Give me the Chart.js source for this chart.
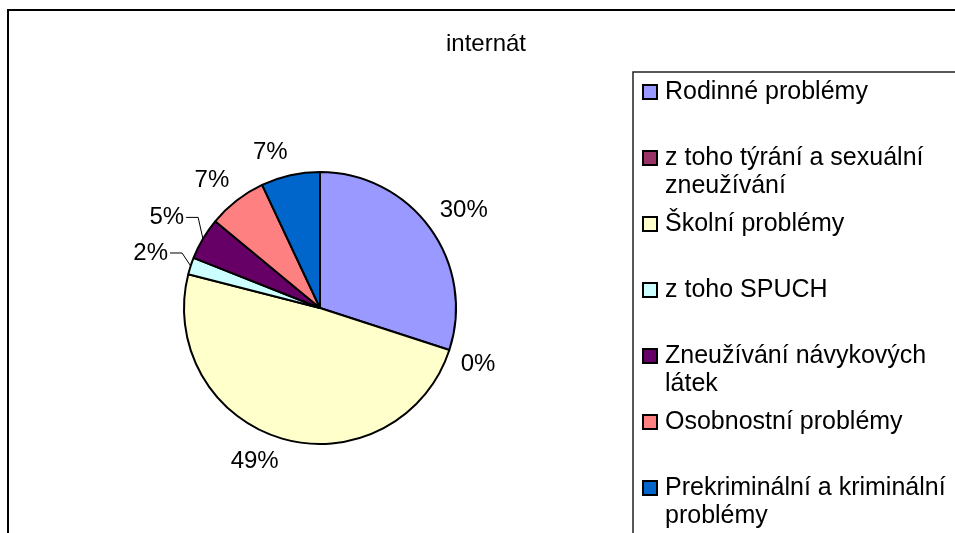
<!DOCTYPE html>
<html lang="cs">
<head>
  <meta charset="UTF-8" />
  <title>internát</title>
  <script src="https://cdn.jsdelivr.net/npm/chart.js"></script>
  <style>
    body {
      margin: 0;
      background: #fff;
    }
    canvas {
      display: block;
    }
  </style>
</head>
<body>
  <canvas id="pieChart" width="955" height="533"></canvas>

  <script>
    // Data
    const titleText = 'internát';
    const categories = [
      'Rodinné problémy',
      'z toho týrání a sexuální zneužívání',
      'Školní problémy',
      'z toho SPUCH',
      'Zneužívání návykových látek',
      'Osobnostní problémy',
      'Prekriminální a kriminální problémy'
    ];
    const shares = [30, 0, 49, 2, 5, 7, 7];
    const sliceColors = ['#9999FF', '#993366', '#FFFFCC', '#CCFFFF', '#660066', '#FF8080', '#0066CC'];

    const FONT = '24px "Liberation Sans", Arial, sans-serif';
    const LEGEND_FONT = '25px "Liberation Sans", Arial, sans-serif';

    // wrap legend text into lines
    function wrap(ctx, text, maxW) {
      const words = text.split(' ');
      const lines = [];
      let line = '';
      words.forEach(w => {
        const test = line ? line + ' ' + w : w;
        if (line && ctx.measureText(test).width > maxW) {
          lines.push(line);
          line = w;
        } else {
          line = test;
        }
      });
      if (line) lines.push(line);
      return lines;
    }

    const decor = {
      id: 'decor',
      beforeDraw(chart) {
        const ctx = chart.ctx;
        ctx.save();
        ctx.fillStyle = '#fff';
        ctx.fillRect(0, 0, chart.width, chart.height);

        // outer frame
        ctx.strokeStyle = '#000';
        ctx.lineWidth = 2;
        ctx.strokeRect(8, 10, chart.width + 20, chart.height + 20);

        // title
        ctx.font = FONT;
        ctx.fillStyle = '#000';
        ctx.textAlign = 'center';
        ctx.textBaseline = 'alphabetic';
        ctx.fillText(titleText, 486, 51);

        // legend box
        ctx.lineWidth = 1.5;
        ctx.strokeStyle = '#222';
        ctx.strokeRect(633, 72, 400, 600);

        ctx.font = LEGEND_FONT;
        ctx.textAlign = 'left';
        ctx.textBaseline = 'middle';
        categories.forEach((name, i) => {
          const y = 92 + 66 * i;
          ctx.fillStyle = sliceColors[i];
          ctx.fillRect(643, y - 7, 14, 14);
          ctx.strokeStyle = '#000';
          ctx.lineWidth = 2;
          ctx.strokeRect(643, y - 7, 14, 14);
          ctx.fillStyle = '#000';
          wrap(ctx, name, 288).forEach((ln, k) => {
            ctx.fillText(ln, 665, y + 28 * k);
          });
        });
        ctx.restore();
      },
      afterDatasetsDraw(chart) {
        const ctx = chart.ctx;
        const meta = chart.getDatasetMeta(0);
        const total = shares.reduce((a, b) => a + b, 0);
        ctx.save();
        ctx.font = FONT;
        ctx.fillStyle = '#000';
        ctx.strokeStyle = '#000';
        ctx.lineWidth = 1;
        ctx.textAlign = 'center';
        ctx.textBaseline = 'middle';
        const h = 22;
        meta.data.forEach((arc, i) => {
          const p = arc.getProps(['x', 'y', 'startAngle', 'endAngle', 'outerRadius'], true);
          const mid = (p.startAngle + p.endAngle) / 2;
          const dx = Math.cos(mid), dy = Math.sin(mid);
          const pct = Math.round(shares[i] / total * 100);
          const txt = pct + '%';
          const w = ctx.measureText(txt).width;
          const small = pct > 0 && pct < 6;
          let lx, ly;
          if (small) {
            // pushed out, with a leader line
            const d = p.outerRadius + 42;
            lx = p.x + dx * d;
            ly = p.y + dy * d;
            const ax = p.x + dx * p.outerRadius;
            const ay = p.y + dy * p.outerRadius;
            const cx0 = lx + w / 2 + 2;
            ctx.beginPath();
            ctx.moveTo(cx0, ly);
            ctx.lineTo(cx0 + 12, ly);
            ctx.lineTo(ax, ay);
            ctx.stroke();
          } else {
            // nearest corner of the label box sits just outside the rim
            const d = p.outerRadius + 12;
            lx = p.x + dx * d + Math.sign(dx) * w / 2;
            ly = p.y + dy * d + Math.sign(dy) * h / 2;
          }
          ctx.fillText(txt, lx, ly);
        });
        ctx.restore();
      }
    };

    new Chart(document.getElementById('pieChart').getContext('2d'), {
      type: 'pie',
      data: {
        labels: categories,
        datasets: [{
          data: shares,
          backgroundColor: sliceColors,
          borderColor: '#000',
          borderWidth: 2
        }]
      },
      options: {
        responsive: false,
        animation: false,
        layout: { padding: { left: 183, right: 498, top: 171, bottom: 88 } },
        plugins: {
          legend: { display: false },
          tooltip: { enabled: false }
        }
      },
      plugins: [decor]
    });
  </script>
</body>
</html>
